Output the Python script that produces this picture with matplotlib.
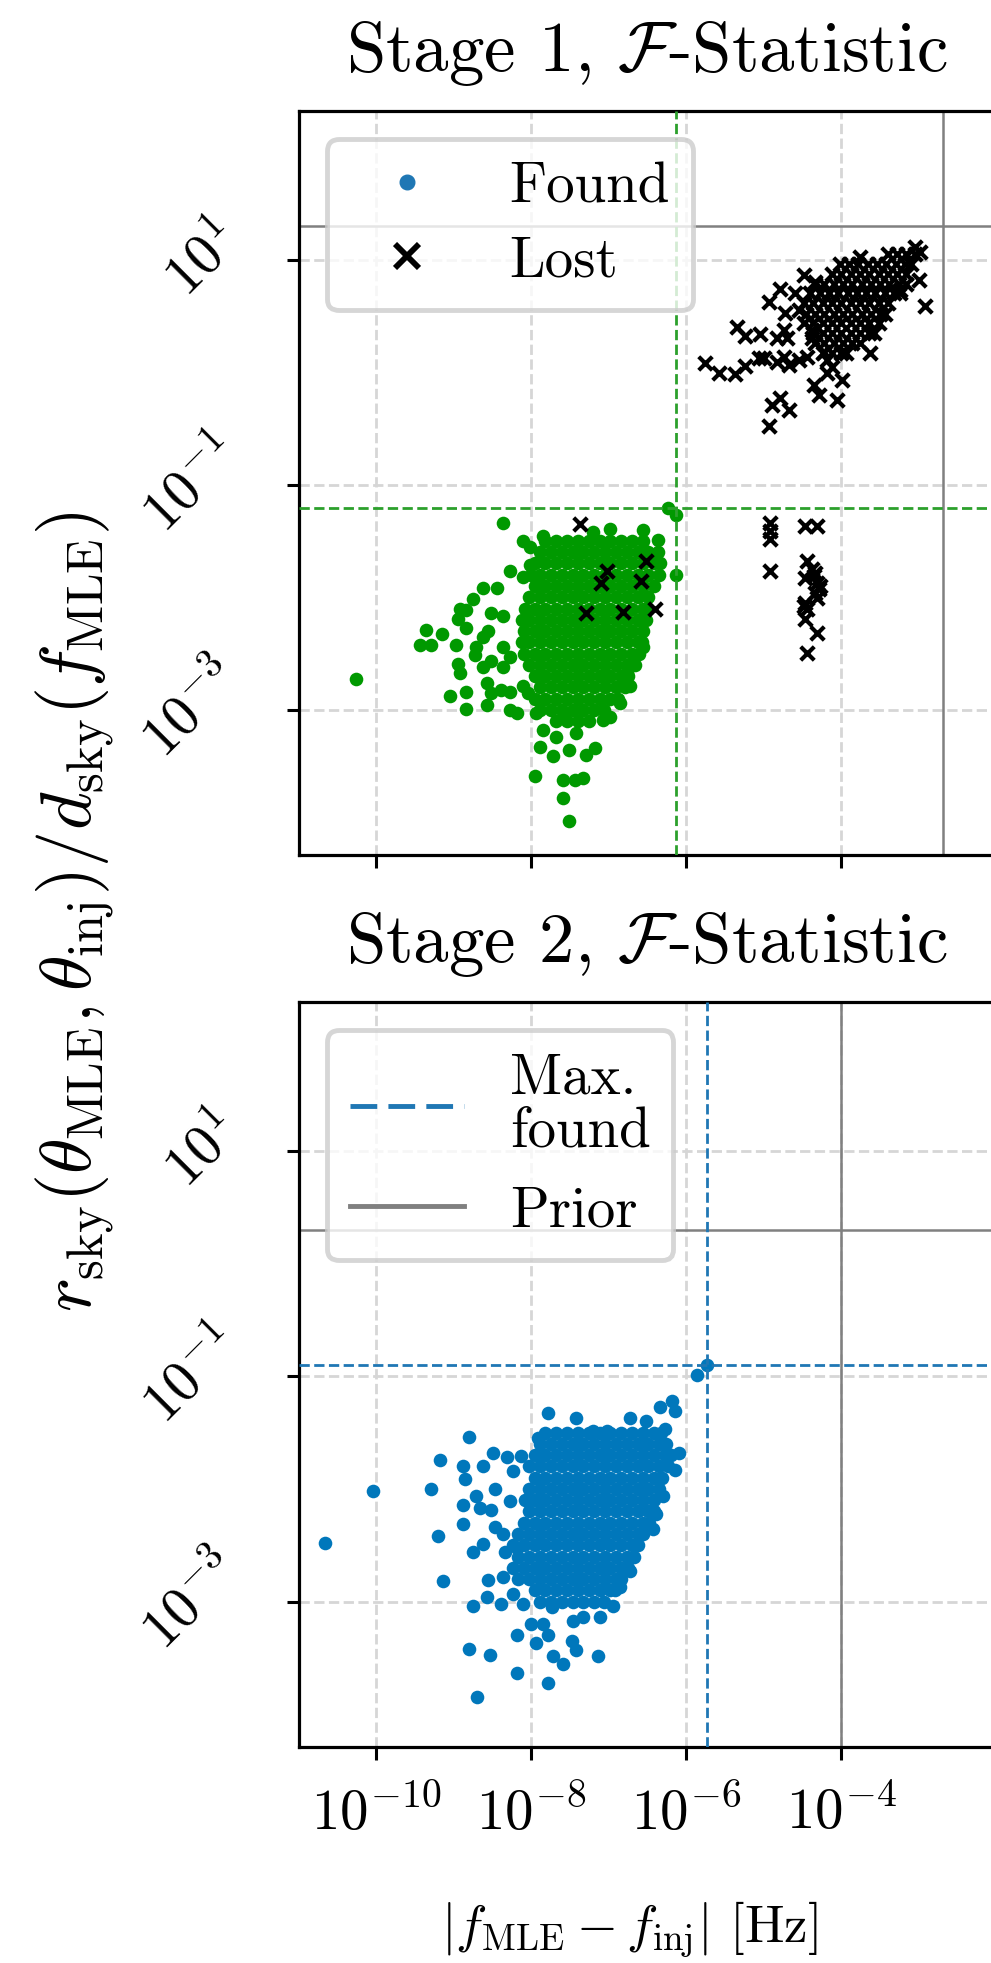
import matplotlib
matplotlib.use("Agg")
import matplotlib.pyplot as plt
from matplotlib.lines import Line2D
from matplotlib.ticker import NullLocator
import numpy as np

plt.rcParams.update({
    "font.family": "serif",
    "font.serif": ["cmr10"],
    "mathtext.fontset": "cm",
    "axes.formatter.use_mathtext": True,
    "axes.unicode_minus": False,
})

# everything below is log10 of the plotted quantity
xlim_log = (-11.0, -2.03)
ylim_log = (-4.29, 2.32)
xtick_exp = [-10, -8, -6, -4]
ytick_exp = [-3, -1, 1]

prior1 = (-2.69, 1.30)
prior2 = (-4.0, 0.30)

titles = [r"Stage 1, $\mathcal{F}$-Statistic", r"Stage 2, $\mathcal{F}$-Statistic"]

# stage 1, found: dense core as rows (log r, [log f ...]) + scattered points
found1_rows = [
    (-1.50, [-7.82, -7.68, -7.54, -7.40, -7.26, -7.12, -6.98, -6.84, -6.70, -6.56]),
    (-1.60, [-7.89, -7.75, -7.61, -7.47, -7.33, -7.19, -7.05, -6.91, -6.77, -6.63, -6.49, -6.37]),
    (-1.70, [-7.96, -7.82, -7.68, -7.54, -7.40, -7.26, -7.12, -6.98, -6.84, -6.70, -6.56, -6.42, -6.34]),
    (-1.80, [-8.0, -7.89, -7.75, -7.61, -7.47, -7.33, -7.19, -7.05, -6.91, -6.77, -6.63, -6.49, -6.36]),
    (-1.90, [-7.96, -7.82, -7.68, -7.54, -7.40, -7.26, -7.12, -6.98, -6.84, -6.70, -6.56, -6.42]),
    (-2.00, [-8.03, -7.89, -7.75, -7.61, -7.47, -7.33, -7.19, -7.05, -6.91, -6.77, -6.63, -6.49]),
    (-2.10, [-8.08, -7.96, -7.82, -7.68, -7.54, -7.40, -7.26, -7.12, -6.98, -6.84, -6.70, -6.56, -6.49]),
    (-2.20, [-8.12, -8.03, -7.89, -7.75, -7.61, -7.47, -7.33, -7.19, -7.05, -6.91, -6.77, -6.63, -6.52]),
    (-2.30, [-8.10, -7.96, -7.82, -7.68, -7.54, -7.40, -7.26, -7.12, -6.98, -6.84, -6.70, -6.56]),
    (-2.40, [-8.12, -8.03, -7.89, -7.75, -7.61, -7.47, -7.33, -7.19, -7.05, -6.91, -6.77, -6.63, -6.57]),
    (-2.50, [-8.10, -7.96, -7.82, -7.68, -7.54, -7.40, -7.26, -7.12, -6.98, -6.84, -6.70, -6.61]),
    (-2.60, [-8.03, -7.89, -7.75, -7.61, -7.47, -7.33, -7.19, -7.05, -6.91, -6.77, -6.66]),
    (-2.70, [-7.96, -7.82, -7.68, -7.54, -7.40, -7.26, -7.12, -6.98, -6.84, -6.76]),
    (-2.80, [-7.89, -7.75, -7.61, -7.47, -7.33, -7.19, -7.05, -6.91, -6.79]),
    (-2.90, [-7.96, -7.82, -7.68, -7.54, -7.40, -7.26, -7.12, -6.98, -6.88]),
    (-3.00, [-7.89, -7.75, -7.61, -7.47, -7.33, -7.19, -7.06]),
    (-3.10, [-7.68, -7.54, -7.40, -7.26]),
]
found1_extra = [
    (-10.26, -2.73), (-9.44, -2.42), (-9.355, -2.29), (-9.29, -2.42), (-9.16, -2.33),
    (-9.05, -2.88), (-8.84, -2.84), (-8.84, -2.99), (-8.95, -2.59), (-8.92, -2.67),
    (-8.97, -2.42), (-8.84, -2.27), (-8.95, -2.19), (-8.92, -2.10), (-8.62, -2.62),
    (-8.52, -2.57), (-8.73, -2.51), (-8.62, -2.35), (-8.56, -2.30), (-8.75, -2.02),
    (-8.62, -1.92), (-8.45, -1.92), (-8.52, -2.14), (-8.37, -2.17), (-8.58, -2.76),
    (-8.52, -2.85), (-8.39, -2.82), (-8.28, -2.84), (-8.58, -2.96), (-8.28, -3.0),
    (-8.19, -3.03), (-8.11, -2.79), (-8.04, -2.85), (-8.37, -1.34), (-8.28, -1.77),
    (-8.11, -1.50), (-8.02, -1.71), (-8.11, -1.82), (-8.71, -2.44), (-8.84, -2.11),
    (-8.37, -2.44), (-8.28, -2.53), (-8.37, -2.62),
    (-7.94, -3.03), (-7.85, -3.18), (-7.89, -3.33), (-7.72, -3.41), (-7.51, -3.36),
    (-7.29, -3.40), (-7.18, -3.34), (-7.96, -3.59), (-7.59, -3.62), (-7.44, -3.62),
    (-7.33, -3.61), (-7.59, -3.78), (-7.51, -3.99), (-7.68, -3.24), (-7.42, -3.21),
    (-7.59, -3.06), (-7.08, -3.09), (-6.99, -3.06),
    (-6.24, -1.21), (-6.14, -1.27), (-6.13, -1.80), (-6.37, -1.49), (-6.56, -1.40),
    (-6.99, -1.39), (-7.20, -1.42), (-7.85, -1.46), (-8.02, -1.55),
    (-6.56, -2.44), (-6.73, -2.79), (-6.86, -2.94), (-6.77, -2.67),
]

# stage 1, lost
lost1_rows = [
    (1.050, [-3.40, -3.28, -3.16, -3.05]),
    (0.965, [-4.02, -3.9, -3.78, -3.66, -3.54, -3.42, -3.3, -3.18, -3.1]),
    (0.876, [-4.12, -4.0, -3.88, -3.76, -3.64, -3.52, -3.4, -3.28, -3.16]),
    (0.787, [-4.34, -4.22, -4.1, -3.98, -3.86, -3.74, -3.62, -3.5, -3.38, -3.26, -3.16]),
    (0.700, [-4.4, -4.28, -4.16, -4.04, -3.92, -3.8, -3.68, -3.56, -3.44, -3.32, -3.24]),
    (0.610, [-4.48, -4.36, -4.24, -4.12, -4.0, -3.88, -3.76, -3.64, -3.52, -3.4]),
    (0.520, [-4.46, -4.34, -4.22, -4.1, -3.98, -3.86, -3.74, -3.62, -3.5, -3.44]),
    (0.433, [-4.48, -4.36, -4.24, -4.12, -4.0, -3.88, -3.76, -3.64, -3.52]),
    (0.344, [-4.36, -4.24, -4.12, -4.0, -3.88, -3.76, -3.64, -3.58]),
    (0.256, [-4.34, -4.22, -4.1, -3.98, -3.86, -3.76]),
    (0.167, [-4.24, -4.12, -4.0, -3.94]),
]
lost1_extra = [
    (-5.755, 0.084), (-5.583, -0.011), (-5.368, -0.016), (-5.239, 0.058), (-5.346, 0.404),
    (-5.239, 0.321), (-5.045, 0.338), (-5.067, 0.123), (-5.002, 0.123), (-4.938, 0.625),
    (-4.787, 0.743), (-4.723, 0.521), (-4.830, 0.300), (-4.744, 0.374), (-4.701, 0.300),
    (-4.830, 0.093), (-4.744, 0.137), (-4.680, 0.064), (-4.895, -0.291), (-4.787, -0.232),
    (-4.680, -0.335), (-4.938, -0.483), (-4.357, -0.114), (-4.292, -0.202), (-4.056, -0.247),
    (-4.185, -0.010), (-3.991, -0.069), (-3.626, 0.167), (-2.916, 0.586), (-4.594, 0.699),
    (-4.486, 0.861), (-4.335, 0.802), (-4.551, 0.551), (-4.378, 0.300), (-4.378, 0.374),
    (-4.443, 0.137), (-4.185, 0.108), (-4.120, 0.049), (-3.002, 0.817), (-3.045, 1.112),
    (-2.981, 1.068), (-3.239, 0.728), (-3.755, 1.024), (-4.551, 0.108), (-4.228, 0.182),
    (-4.916, -1.340), (-4.925, -1.414), (-4.925, -1.482), (-4.925, -1.768), (-4.464, -1.369),
    (-4.314, -1.369), (-4.443, -1.680), (-4.464, -1.827), (-4.335, -1.783), (-4.314, -1.871),
    (-4.292, -1.931), (-4.314, -2.004), (-4.464, -2.049), (-4.443, -2.108), (-4.464, -2.196),
    (-4.314, -2.315), (-4.443, -2.492), (-4.357, -1.812), (-4.271, -1.901), (-4.486, -2.078),
    (-4.378, -1.753), (-4.335, -1.960),
    (-7.37, -1.35), (-7.03, -1.77), (-7.10, -1.875), (-6.52, -1.68), (-6.58, -1.86),
    (-7.29, -2.14), (-6.82, -2.135), (-6.41, -2.105),
]

# stage 2, found
found2_rows = [
    (-1.50, [-7.82, -7.68, -7.54, -7.40, -7.26, -7.12, -6.98, -6.84, -6.70, -6.56, -6.42, -6.33]),
    (-1.60, [-7.89, -7.75, -7.61, -7.47, -7.33, -7.19, -7.05, -6.91, -6.77, -6.63, -6.49, -6.35, -6.26]),
    (-1.70, [-7.96, -7.82, -7.68, -7.54, -7.40, -7.26, -7.12, -6.98, -6.84, -6.70, -6.56, -6.42, -6.28, -6.2]),
    (-1.80, [-8.03, -7.89, -7.75, -7.61, -7.47, -7.33, -7.19, -7.05, -6.91, -6.77, -6.63, -6.49, -6.35, -6.24]),
    (-1.90, [-7.96, -7.82, -7.68, -7.54, -7.40, -7.26, -7.12, -6.98, -6.84, -6.70, -6.56, -6.42, -6.31]),
    (-2.00, [-8.03, -7.89, -7.75, -7.61, -7.47, -7.33, -7.19, -7.05, -6.91, -6.77, -6.63, -6.49, -6.36]),
    (-2.10, [-8.08, -7.96, -7.82, -7.68, -7.54, -7.40, -7.26, -7.12, -6.98, -6.84, -6.70, -6.56, -6.42]),
    (-2.20, [-8.03, -7.89, -7.75, -7.61, -7.47, -7.33, -7.19, -7.05, -6.91, -6.77, -6.63, -6.49, -6.42]),
    (-2.30, [-8.10, -7.96, -7.82, -7.68, -7.54, -7.40, -7.26, -7.12, -6.98, -6.84, -6.70, -6.56, -6.48]),
    (-2.40, [-8.17, -8.03, -7.89, -7.75, -7.61, -7.47, -7.33, -7.19, -7.05, -6.91, -6.77, -6.63, -6.56]),
    (-2.50, [-8.24, -8.10, -7.96, -7.82, -7.68, -7.54, -7.40, -7.26, -7.12, -6.98, -6.84, -6.70, -6.62]),
    (-2.60, [-8.17, -8.03, -7.89, -7.75, -7.61, -7.47, -7.33, -7.19, -7.05, -6.91, -6.77, -6.68]),
    (-2.70, [-8.24, -8.10, -7.96, -7.82, -7.68, -7.54, -7.40, -7.26, -7.12, -6.98, -6.84, -6.76]),
    (-2.80, [-8.17, -8.03, -7.89, -7.75, -7.61, -7.47, -7.33, -7.19, -7.05, -6.91, -6.84]),
    (-2.90, [-7.96, -7.82, -7.68, -7.54, -7.40, -7.26, -7.12, -6.98, -6.92]),
    (-3.00, [-7.89, -7.75, -7.61, -7.47, -7.33, -7.19, -7.06]),
]
found2_extra = [
    (-5.74, -0.90), (-5.86, -0.99),
    (-10.67, -2.48), (-10.04, -2.02), (-9.29, -2.00), (-9.18, -1.74), (-8.80, -1.54),
    (-9.20, -2.42), (-9.14, -2.82), (-8.80, -3.42), (-8.54, -3.47), (-8.70, -3.85),
    (-8.18, -3.63), (-7.79, -3.72), (-8.19, -3.30), (-8.75, -3.04), (-8.56, -2.81),
    (-8.58, -2.96), (-8.37, -2.78), (-8.34, -2.56), (-8.75, -2.56), (-8.62, -2.49),
    (-8.88, -2.31), (-8.88, -2.14), (-8.71, -2.06), (-8.67, -2.17), (-8.86, -1.91),
    (-8.88, -1.80), (-8.62, -1.80), (-8.49, -1.68), (-8.32, -1.72), (-8.13, -1.71),
    (-8.24, -1.84), (-8.47, -2.00), (-8.28, -2.11), (-8.52, -2.19), (-8.47, -2.34),
    (-8.37, -2.40), (-8.19, -2.52), (-8.24, -2.93), (-8.11, -3.02), (-8.39, -3.02),
    (-8.0, -3.20), (-7.85, -3.20), (-7.78, -3.30), (-7.94, -3.37), (-7.72, -3.48),
    (-7.59, -3.55), (-7.48, -3.35), (-7.42, -3.43), (-7.14, -3.48), (-7.46, -3.17),
    (-7.33, -3.14), (-7.12, -3.14), (-6.95, -3.04), (-7.74, -3.05),
    (-7.78, -1.33), (-7.43, -1.37), (-7.91, -1.55), (-6.73, -1.37), (-6.52, -1.40),
    (-6.34, -1.27), (-6.19, -1.22), (-6.15, -1.31), (-6.28, -1.47), (-6.09, -1.68),
    (-6.15, -1.83), (-6.30, -2.06), (-6.39, -2.22), (-6.43, -2.36), (-6.73, -2.73),
    (-6.86, -2.87), (-7.03, -1.49), (-7.20, -1.49),
]


def unpack(rows, extra):
    xs = [x for y, row in rows for x in row] + [p[0] for p in extra]
    ys = [y for y, row in rows for _ in row] + [p[1] for p in extra]
    return 10.0 ** np.array(xs), 10.0 ** np.array(ys)


W, H = 991, 1963
fig = plt.figure(figsize=(W / 100, H / 100), dpi=100)
ax1 = fig.add_axes([299 / W, 1 - 855 / H, 695 / W, 744 / H])
ax2 = fig.add_axes([299 / W, 1 - 1747 / H, 695 / W, 745 / H])

for ax, title in zip([ax1, ax2], titles):
    ax.set_xscale("log")
    ax.set_yscale("log")
    ax.set_xlim(10.0 ** xlim_log[0], 10.0 ** xlim_log[1])
    ax.set_ylim(10.0 ** ylim_log[0], 10.0 ** ylim_log[1])
    ax.set_xticks([10.0 ** e for e in xtick_exp])
    ax.set_xticklabels([r"$10^{%d}$" % e for e in xtick_exp])
    ax.set_yticks([10.0 ** e for e in ytick_exp])
    ax.set_yticklabels([r"$10^{%d}$" % e for e in ytick_exp])
    ax.xaxis.set_minor_locator(NullLocator())
    ax.yaxis.set_minor_locator(NullLocator())
    ax.grid(True, ls="--", color="#d6d6d6", lw=2)
    ax.set_axisbelow(True)
    ax.tick_params(length=9, width=2.2, labelsize=41)
    ax.tick_params(axis="x", pad=19)
    ax.tick_params(axis="y", pad=26, labelrotation=45)
    plt.setp(ax.get_yticklabels(), va="center")
    for s in ax.spines.values():
        s.set_linewidth(2.3)
    ax.set_title(title, fontsize=51, pad=29)

ax1.tick_params(axis="x", labelbottom=False)

# stage 1
fx, fy = unpack(found1_rows, found1_extra)
lx, ly = unpack(lost1_rows, lost1_extra)
ax1.axvline(10.0 ** prior1[0], color="gray", lw=1.8, zorder=2)
ax1.axhline(10.0 ** prior1[1], color="gray", lw=1.8, zorder=2)
ax1.scatter(fx, fy, s=96, color="#009900", linewidths=0, zorder=3)
ax1.scatter(lx, ly, s=95, marker="x", color="k", linewidths=3, zorder=4)
ax1.axvline(fx.max(), color="#2ca02c", ls="--", lw=2, zorder=5)
ax1.axhline(fy.max(), color="#2ca02c", ls="--", lw=2, zorder=5)

h1 = [Line2D([], [], marker="o", ls="", color="#1f77b4", markersize=10.5),
      Line2D([], [], marker="x", ls="", color="k", markersize=17, mew=4.2)]
leg1 = ax1.legend(h1, ["Found", "Lost"], loc="upper left", fontsize=41,
                  framealpha=0.8, edgecolor="0.8", labelspacing=0.4)
leg1.get_frame().set_linewidth(3.5)

# stage 2
gx, gy = unpack(found2_rows, found2_extra)
ax2.axvline(10.0 ** prior2[0], color="gray", lw=1.8, zorder=2)
ax2.axhline(10.0 ** prior2[1], color="gray", lw=1.8, zorder=2)
ax2.scatter(gx, gy, s=96, color="#0077bb", linewidths=0, zorder=3)
ax2.axvline(gx.max(), color="#1f77b4", ls="--", lw=2, zorder=5)
ax2.axhline(gy.max(), color="#1f77b4", ls="--", lw=2, zorder=5)

h2 = [Line2D([], [], color="#1f77b4", ls=(0, (5.5, 2.3)), lw=3.5),
      Line2D([], [], color="gray", lw=3.5)]
leg2 = ax2.legend(h2, ["Max.\nfound", "Prior"], loc="upper left", fontsize=41,
                  framealpha=0.8, edgecolor="0.8", labelspacing=0.5)
leg2.get_frame().set_linewidth(3.5)
for t in leg2.get_texts():
    t.set_linespacing(1.05)

fig.text(75 / W, 1 - 912 / H,
         r"$r_{\rm sky}(\theta_{\rm MLE}, \theta_{\rm inj})/d_{\rm sky}(f_{\rm MLE})$",
         rotation=90, ha="center", va="center", fontsize=52)
fig.text(629 / W, 1 - 1930 / H, r"$|f_{\rm MLE} - f_{\rm inj}|$ [Hz]",
         ha="center", va="center", fontsize=38)

fig.savefig("out.png", dpi=100)
